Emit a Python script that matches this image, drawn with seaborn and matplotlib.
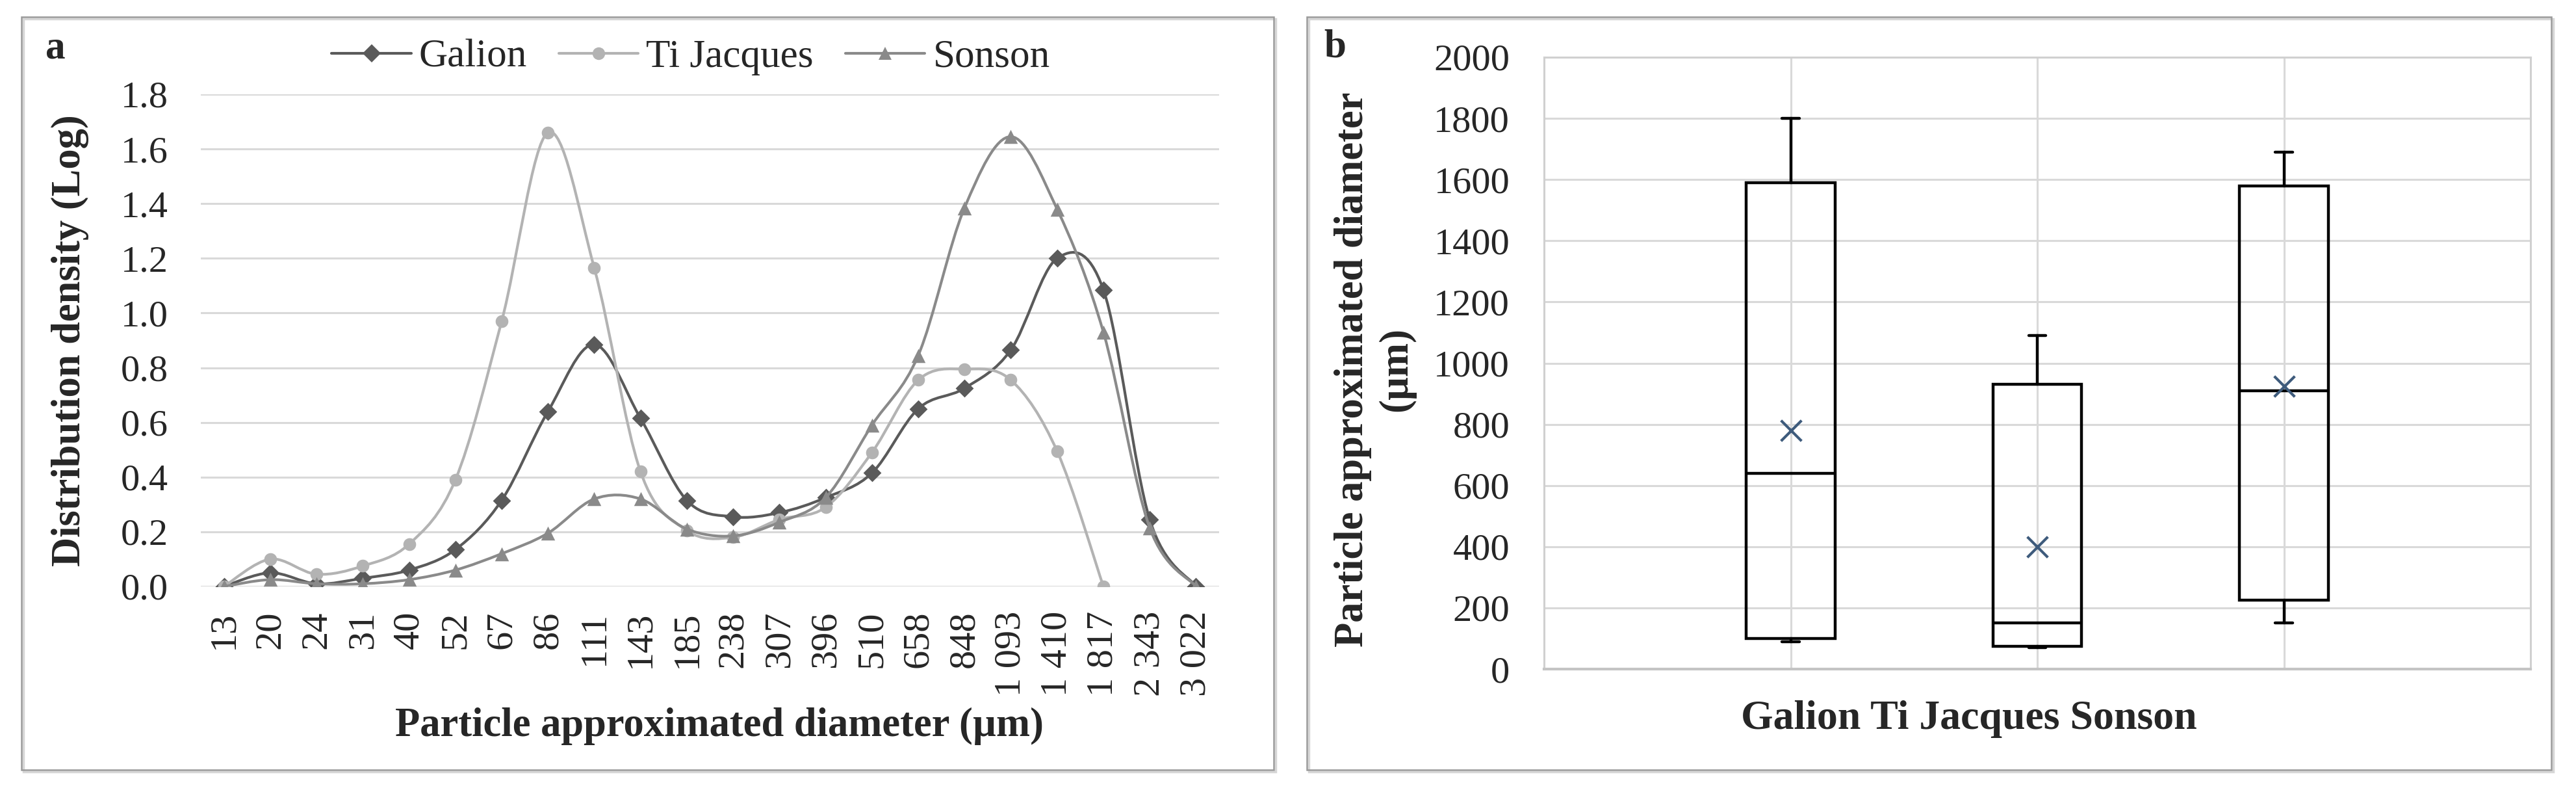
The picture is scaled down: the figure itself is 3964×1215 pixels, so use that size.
import numpy as np
import pandas as pd
import matplotlib
matplotlib.use("Agg")
import matplotlib.pyplot as plt
from matplotlib.path import Path
from matplotlib.patches import PathPatch, Rectangle
from matplotlib.lines import Line2D
import seaborn as sns

# ---- data ----
sizes = ["13", "20", "24", "31", "40", "52", "67", "86", "111", "143", "185",
         "238", "307", "396", "510", "658", "848", "1 093", "1 410", "1 817",
         "2 343", "3 022"]
galion = [0.0, 0.05, 0.01, 0.03, 0.06, 0.135, 0.315, 0.64, 0.885, 0.615, 0.315,
          0.255, 0.27, 0.325, 0.415, 0.65, 0.725, 0.865, 1.2, 1.085, 0.245, 0.0]
ti_jacques = [0.0, 0.10, 0.045, 0.075, 0.155, 0.39, 0.97, 1.66, 1.165, 0.42, 0.205,
              0.18, 0.245, 0.29, 0.49, 0.755, 0.795, 0.755, 0.495, 0.0, np.nan, np.nan]
sonson = [0.0, 0.025, 0.01, 0.01, 0.025, 0.06, 0.12, 0.195, 0.32, 0.32, 0.21,
          0.185, 0.235, 0.325, 0.59, 0.845, 1.385, 1.645, 1.38, 0.93, 0.215, 0.0]

sites = ["Galion", "Ti Jacques", "Sonson"]
box_q1 = [100, 75, 225]
box_med = [640, 150, 910]
box_q3 = [1590, 930, 1580]
box_lo = [90, 70, 150]
box_hi = [1800, 1090, 1690]
box_mean = [780, 400, 925]

colors = {"Galion": "#5a5a5a", "Ti Jacques": "#b3b3b3", "Sonson": "#8a8a8a"}
markers = {"Galion": "D", "Ti Jacques": "o", "Sonson": "^"}
msize = {"Galion": 200, "Ti Jacques": 200, "Sonson": 240}

sns.set_theme(style="white")
plt.rcParams["font.family"] = ["Liberation Serif", "DejaVu Serif"]

W, H = 3964, 1215
def fx(px):
    return px / W
def fy(py):
    return 1 - py / H

def smooth_path(x, y):
    # excel-like smoothed line: cubic bezier segments through the points
    pts = np.column_stack([x, y])
    n = len(pts)
    verts = [pts[0]]
    codes = [Path.MOVETO]
    for i in range(n - 1):
        p0 = pts[max(i - 1, 0)]
        p1 = pts[i]
        p2 = pts[i + 1]
        p3 = pts[min(i + 2, n - 1)]
        c1 = p1 + (p2 - p0) / 6
        c2 = p2 - (p3 - p1) / 6
        verts += [c1, c2, p2]
        codes += [Path.CURVE4] * 3
    return Path(verts, codes)

fig = plt.figure(figsize=(W / 100, H / 100), dpi=100)

# panel frames
for x0, x1 in [(33, 1960), (2011, 3926)]:
    fig.patches.append(Rectangle((fx(x0 + 3), fy(1187)), fx(x1) - fx(x0), fy(26) - fy(1184),
                                 transform=fig.transFigure, fill=False, ec="#d6d6d6", lw=2.5, zorder=0))
    fig.patches.append(Rectangle((fx(x0), fy(1184)), fx(x1) - fx(x0), fy(26) - fy(1184),
                                 transform=fig.transFigure, fill=False, ec="#9a9a9a", lw=1.8, zorder=1))

# ---- panel a ----
ax1 = fig.add_axes([fx(309), fy(902), fx(1876) - fx(309), fy(145) - fy(902)])
df = pd.DataFrame({"pos": np.tile(np.arange(len(sizes)), 3),
                   "density": galion + ti_jacques + sonson,
                   "site": np.repeat(sites, len(sizes))})

for k, s in enumerate(sites):
    d = df[(df["site"] == s) & df["density"].notna()]
    path = smooth_path(d["pos"].to_numpy(float), d["density"].to_numpy(float))
    ax1.add_patch(PathPatch(path, fill=False, ec=colors[s], lw=3.0, zorder=3 + 2 * k,
                            capstyle="round", joinstyle="round"))
    sns.scatterplot(data=d, x="pos", y="density", marker=markers[s], s=msize[s],
                    color=colors[s], linewidth=0, ax=ax1, zorder=4 + 2 * k, legend=False)

ax1.set_xlim(-0.5, len(sizes) - 0.5)
ax1.set_ylim(0, 1.8)
ax1.set_yticks(np.arange(0, 1.81, 0.2))
ax1.set_yticklabels([f"{v:.1f}" for v in np.arange(0, 1.81, 0.2)])
ax1.set_xticks(np.arange(len(sizes)))
ax1.set_xticklabels(sizes, rotation=90)
ax1.set_xlabel("")
ax1.set_ylabel("")
ax1.yaxis.grid(True, color="#d9d9d9", lw=2.2)
ax1.xaxis.grid(False)
for sp in ax1.spines.values():
    sp.set_visible(False)
ax1.tick_params(axis="y", length=0, labelsize=42, pad=36)
ax1.tick_params(axis="x", length=0, labelsize=42, pad=27)
ax1.set_axisbelow(True)

handles = [Line2D([], [], color=colors[s], lw=3.0, marker=markers[s],
                  markersize=14 if s != "Sonson" else 15, markeredgewidth=0) for s in sites]
fig.legend(handles, sites, loc="center", bbox_to_anchor=(fx(1063), fy(88)), ncol=3,
           frameon=False, fontsize=44, handlelength=2.0, handletextpad=0.2,
           columnspacing=0.8, borderpad=0)

fig.text(fx(108), fy(524), "Distribution density (Log)", rotation=90, ha="center",
         va="center", fontsize=45, fontweight="bold")
fig.text(fx(1107), fy(1117), "Particle approximated diameter (µm)", ha="center",
         va="center", fontsize=45, fontweight="bold")
fig.text(fx(85), fy(89), "a", ha="center", va="baseline", fontsize=44, fontweight="bold")

# ---- panel b ----
ax2 = fig.add_axes([fx(2376), fy(1029), fx(3894) - fx(2376), fy(88) - fy(1029)])
stats = []
for i, s in enumerate(sites):
    stats.append({"label": s, "q1": box_q1[i], "med": box_med[i], "q3": box_q3[i],
                  "whislo": box_lo[i], "whishi": box_hi[i]})
ax2.bxp(stats, positions=range(len(sites)), widths=0.36, capwidths=0.07,
        showfliers=False, patch_artist=True,
        boxprops=dict(facecolor="none", edgecolor="black", lw=3.2),
        medianprops=dict(color="black", lw=3.2),
        whiskerprops=dict(color="black", lw=3.2),
        capprops=dict(color="black", lw=3.2))
sns.scatterplot(x=list(range(len(sites))), y=box_mean, marker="x", s=520,
                color="#3e5b7c", linewidth=3, ax=ax2, zorder=5, legend=False)

ax2.set_xlim(-1, 3)
ax2.set_ylim(0, 2000)
ax2.set_yticks(np.arange(0, 2001, 200))
ax2.set_xticks(range(len(sites)))
ax2.set_xticklabels([])
ax2.grid(True, color="#d9d9d9", lw=2.2)
ax2.set_axisbelow(True)
for sp in ax2.spines.values():
    sp.set_color("#d0d0d0")
    sp.set_linewidth(2.2)
ax2.spines["bottom"].set_color("#c4c4c4")
ax2.spines["bottom"].set_linewidth(3)
ax2.tick_params(axis="both", length=0, labelsize=42)
ax2.tick_params(axis="y", pad=38)

fig.text(fx(2116), fy(568), "Particle approximated diameter\n(µm)", rotation=90,
         ha="center", va="center", multialignment="center", fontsize=45,
         fontweight="bold", linespacing=1.2)
fig.text(fx(3030), fy(1106), "Galion Ti Jacques Sonson", ha="center", va="center",
         fontsize=46, fontweight="bold")
fig.text(fx(2054), fy(88), "b", ha="center", va="baseline", fontsize=44, fontweight="bold")

fig.savefig("out.png", dpi=100)
